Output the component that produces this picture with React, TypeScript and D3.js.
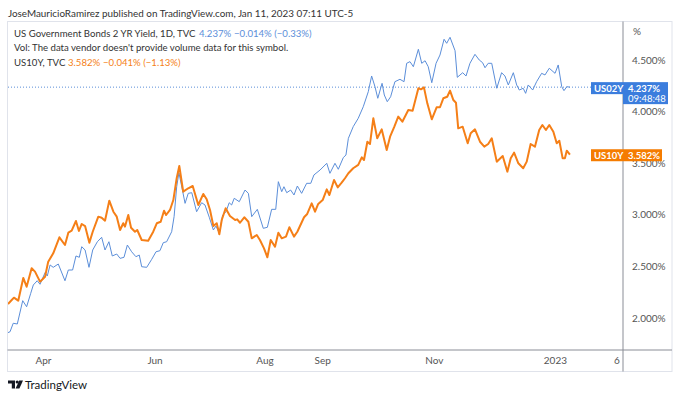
import React from 'react';
import * as d3 from 'd3';

// positions are in chart "day" units from the first bar (mid-March 2022)
const t02 = [0, 1.1, 2.8, 5, 7.9, 10, 12.2, 13.6, 15.7, 17.2, 19.9, 21.1, 22.6, 24.3, 27, 30.6, 32.4, 34.7, 36.5, 38.3, 39.6, 41.4, 43.5, 45.5, 48, 50.3, 52.1, 54.2, 56, 58.4, 60.2, 62.3, 64.1, 66.4, 68.7, 70.5, 71.8, 74.5, 77.2, 79.5, 81.6, 83.4, 85.2, 87.9, 89.2, 90.6, 91.8, 95.1, 96.8, 98.7, 101.3, 104, 105.8, 108.1, 110.3, 111.7, 113.5, 115.3, 117.1, 118.8, 120.1, 121.5, 124.2, 127.3, 129.1, 130.9, 133.9, 137.1, 139.3, 141.6, 143.8, 145.2, 147, 148.2, 149.7, 151.8, 153.6, 155.4, 157.7, 160.4, 162.6, 164.3, 167.6, 171.2, 172.9, 175.6, 177.4, 180.1, 181.5, 182.8, 185.4, 188.1, 190.8, 193.5, 195.3, 197.1, 198.6, 200.9, 202.1, 203.7, 205.5, 207.8, 210.5, 212.7, 214.1, 215.9, 217.7, 220.4, 222.2, 224, 225.7, 227.6, 229.9, 232, 234.2, 235.6, 237.4, 240.1, 241.3, 244.2, 246, 248.1, 250.8, 253.1, 254.9, 256.2, 257.9, 259.8, 262.5, 265.1, 266.9, 268.7, 271.4, 273.2, 274.6, 276.7, 278, 279.4, 281.8, 283.9, 286.6, 288.4, 290.7, 293.8, 295.5, 297.4, 298.6, 300.1, 301.8];
const v02 = [1.858, 1.867, 1.949, 1.942, 2.168, 2.109, 2.239, 2.32, 2.361, 2.327, 2.439, 2.407, 2.514, 2.491, 2.523, 2.361, 2.465, 2.465, 2.601, 2.588, 2.691, 2.659, 2.491, 2.659, 2.739, 2.782, 2.659, 2.739, 2.601, 2.62, 2.578, 2.588, 2.707, 2.642, 2.594, 2.61, 2.497, 2.491, 2.569, 2.642, 2.652, 2.73, 2.739, 2.836, 2.982, 3.272, 3.408, 3.111, 3.208, 3.214, 3.03, 3.117, 3.095, 2.976, 2.853, 2.891, 2.821, 2.998, 3.03, 3.117, 3.095, 3.16, 3.127, 3.24, 3.208, 2.982, 3.053, 2.869, 2.879, 3.053, 3.053, 3.321, 3.224, 3.272, 3.214, 3.24, 3.192, 3.279, 3.208, 3.305, 3.305, 3.386, 3.434, 3.499, 3.402, 3.499, 3.441, 3.555, 3.579, 3.741, 3.854, 3.935, 4.047, 4.193, 4.345, 4.241, 4.129, 4.274, 4.161, 4.096, 4.144, 4.29, 4.313, 4.29, 4.468, 4.484, 4.435, 4.604, 4.468, 4.493, 4.435, 4.28, 4.468, 4.548, 4.701, 4.662, 4.72, 4.59, 4.332, 4.377, 4.345, 4.468, 4.555, 4.5, 4.474, 4.425, 4.468, 4.468, 4.226, 4.377, 4.345, 4.258, 4.377, 4.258, 4.209, 4.226, 4.177, 4.258, 4.209, 4.29, 4.371, 4.355, 4.42, 4.371, 4.452, 4.241, 4.203, 4.241, 4.237];

const t10 = [0, 2, 3.2, 5.5, 8.2, 10, 12.7, 14.5, 17.2, 19.9, 21.6, 24.3, 27.6, 30.6, 32.4, 34.2, 36.5, 38.1, 39.6, 41.4, 43.7, 45.5, 48.5, 50.3, 52.1, 54.4, 56.6, 58.4, 60.2, 61.9, 62.8, 64.6, 66.1, 68.2, 69.4, 71.8, 75.3, 78, 79.9, 82, 83.8, 84.9, 87, 88.8, 90.6, 92, 94.1, 96.8, 99.2, 102.2, 104.9, 106.7, 108.5, 110.3, 112.1, 113.5, 114.8, 116.9, 119.2, 122, 123.1, 124.6, 126.9, 129.1, 130.9, 133.6, 135.3, 137.5, 139.3, 141.1, 143.4, 145.2, 147, 149.3, 151.1, 153.6, 155.4, 159, 160.7, 163.1, 164.9, 166.6, 169, 171.2, 172.6, 175.1, 177.1, 179.2, 181, 182.8, 185.4, 188.1, 190, 191.2, 193, 194.4, 196.2, 198.3, 200.7, 203.4, 205.2, 207.5, 209.6, 211.8, 215, 217.3, 220.4, 221.8, 223.4, 225.2, 227.6, 230.2, 232, 233.8, 235.9, 237.4, 239.2, 240.6, 241.8, 244.2, 246.9, 248.5, 250.8, 253.5, 255.8, 257.9, 259.8, 262.5, 265.7, 268.2, 270, 271.8, 274.1, 276.7, 278.6, 280.7, 283, 285.3, 287, 288.9, 290.7, 292.9, 294.7, 296.1, 297.9, 299.1, 300.1, 301.8];
const v10 = [2.136, 2.174, 2.197, 2.168, 2.388, 2.303, 2.482, 2.449, 2.352, 2.4, 2.546, 2.627, 2.782, 2.707, 2.827, 2.846, 2.94, 2.843, 2.911, 2.891, 2.73, 2.836, 2.982, 2.972, 2.943, 3.137, 3.03, 2.982, 2.853, 2.918, 2.885, 2.998, 2.875, 2.836, 2.853, 2.756, 2.749, 2.836, 2.918, 2.933, 3.04, 2.998, 3.047, 3.143, 3.354, 3.473, 3.224, 3.257, 3.279, 3.095, 3.202, 3.15, 3.047, 2.891, 2.918, 2.811, 2.95, 3.063, 2.988, 2.95, 2.956, 2.923, 2.976, 2.933, 2.772, 2.804, 2.756, 2.675, 2.588, 2.756, 2.691, 2.827, 2.772, 2.788, 2.879, 2.788, 2.836, 2.976, 3.008, 3.111, 3.03, 3.105, 3.143, 3.247, 3.192, 3.337, 3.266, 3.311, 3.354, 3.402, 3.451, 3.483, 3.557, 3.531, 3.708, 3.686, 3.935, 3.741, 3.828, 3.628, 3.757, 3.854, 3.951, 3.902, 4.016, 4.009, 4.226, 4.216, 4.235, 4.08, 3.925, 4.042, 4.042, 4.129, 4.144, 4.203, 4.112, 4.086, 3.838, 3.854, 3.693, 3.79, 3.828, 3.708, 3.66, 3.686, 3.741, 3.515, 3.57, 3.418, 3.547, 3.602, 3.499, 3.451, 3.515, 3.686, 3.66, 3.822, 3.87, 3.822, 3.87, 3.805, 3.693, 3.718, 3.547, 3.547, 3.621, 3.582];

const timeTickLabels = ['Apr', 'Jun', 'Aug', 'Sep', 'Nov', '2023', '6'];
const timeTickPos = [19, 79, 138, 169, 229, 294, 327];
const priceTicks = [2, 2.5, 3, 3.5, 4, 4.5];

const BLUE = '#5b8ed9';
const BLUE_BADGE = '#3b7ddd';
const ORANGE = '#f57f17';
const ORANGE_BADGE = '#f57c00';
const FONT = 'Lato, "Liberation Sans", Arial, sans-serif';

const plot = { left: 8, right: 623, top: 21, bottom: 350 };

export default function App() {
  const x = d3.scaleLinear().domain([0, 330.3]).range([plot.left, plot.right]);
  const y = d3.scaleLinear().domain([2, 4.5]).range([318, 60]);

  const mk = (ts: number[], vs: number[]) =>
    d3.line<number>().x((d) => x(d)).y((_, i) => y(vs[i]))(ts) || '';

  const last02 = v02[v02.length - 1];
  const last10 = v10[v10.length - 1];

  return (
    <div style={{ position: 'absolute', left: 0, top: 0, width: 680, height: 400, background: '#fff' }}>
      <svg width={680} height={400} style={{ display: 'block', fontFamily: FONT }}>
        <defs>
          <clipPath id="plotClip">
            <rect x={plot.left} y={plot.top} width={plot.right - plot.left} height={plot.bottom - plot.top} />
          </clipPath>
        </defs>
        <rect width={680} height={400} fill="#fff" />

        {/* header */}
        <text x={8} y={17} fontSize={9.9} fill="#333">
          JoseMauricioRamirez published on TradingView.com, Jan 11, 2023 07:11 UTC-5
        </text>

        {/* frame */}
        <rect x={7.5} y={21.5} width={664.5} height={350} fill="none" stroke="#e0e3eb" />
        <line x1={plot.right} x2={plot.right} y1={21.5} y2={371.5} stroke="#8a8d96" />
        <line x1={7.5} x2={672} y1={plot.bottom} y2={plot.bottom} stroke="#8a8d96" />

        {/* price axis */}
        <text x={633} y={35} fontSize={10} fill="#555">%</text>
        {priceTicks.map((p) => (
          <text key={p} x={632} y={y(p) + 3.5} fontSize={10} fill="#555">
            {p.toFixed(3)}%
          </text>
        ))}

        {/* time axis */}
        {timeTickLabels.map((l, i) => (
          <text key={l} x={x(timeTickPos[i])} y={364} fontSize={10} fill="#555" textAnchor="middle">
            {l}
          </text>
        ))}

        {/* last price line */}
        <line x1={plot.left} x2={plot.right} y1={y(last02)} y2={y(last02)}
          stroke={BLUE} strokeWidth={1} strokeDasharray="1 2" />

        <g clipPath="url(#plotClip)">
          <path d={mk(t02, v02)} fill="none" stroke={BLUE} strokeWidth={1} strokeLinejoin="round" />
          <path d={mk(t10, v10)} fill="none" stroke={ORANGE} strokeWidth={2} strokeLinejoin="round" />
        </g>

        {/* legend */}
        <g fontSize={9.6}>
          <text x={14} y={37} fill="#333">US Government Bonds 2 YR Yield, 1D, TVC</text>
          <text x={199} y={37} fill={BLUE}>{last02.toFixed(3)}%</text>
          <text x={234} y={37} fill={BLUE}>−0.014% (−0.33%)</text>
          <text x={14} y={51} fill="#333">Vol: The data vendor doesn't provide volume data for this symbol.</text>
          <text x={14} y={66} fill="#333">US10Y, TVC</text>
          <text x={68} y={66} fill={ORANGE}>{last10.toFixed(3)}%</text>
          <text x={103} y={66} fill={ORANGE}>−0.041% (−1.13%)</text>
        </g>

        {/* badges */}
        <g fontSize={9.5} fontWeight="bold" fill="#fff">
          <rect x={591} y={y(last02) - 5} width={32} height={12} fill={BLUE_BADGE} />
          <rect x={623} y={y(last02) - 5} width={45} height={22} fill={BLUE_BADGE} />
          <text x={594} y={y(last02) + 4.5}>US02Y</text>
          <text x={628} y={y(last02) + 4.5}>{last02.toFixed(3)}%</text>
          <text x={628} y={y(last02) + 14.5} fontWeight="normal">09:48:48</text>

          <rect x={591} y={y(last10) - 5.5} width={71} height={12} fill={ORANGE_BADGE} />
          <text x={594} y={y(last10) + 4}>US10Y</text>
          <text x={628} y={y(last10) + 4}>{last10.toFixed(3)}%</text>
        </g>

        {/* footer logo */}
        <g fill="#131722">
          <path d="M8,380.5 h7 v8 h-3.2 v-5 h-3.8 z" />
          <circle cx={17.2} cy={382} r={1.6} />
          <path d="M19.2,380.5 h3.8 l-3.6,8 h-3.8 z" />
        </g>
        <text x={25} y={388.5} fontSize={11.5} fill="#131722">TradingView</text>
      </svg>
    </div>
  );
}
